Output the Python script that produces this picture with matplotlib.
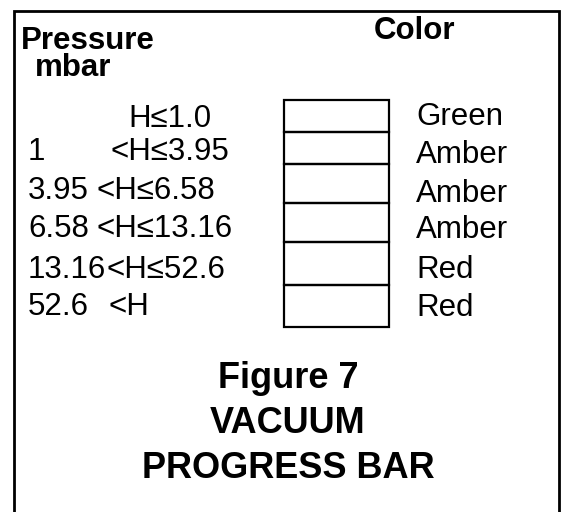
import matplotlib.pyplot as plt
from matplotlib.patches import Rectangle

# pressure ranges (mbar) and indicator colour for each segment of the bar
lower = ['', '1', '3.95', '6.58', '13.16', '52.6']
upper = ['1.0', '3.95', '6.58', '13.16', '52.6', '']
colors = ['Green', 'Amber', 'Amber', 'Amber', 'Red', 'Red']
title = ['Figure 7', 'VACUUM', 'PROGRESS BAR']

# layout (pixel coords)
row_edges = [100, 132, 164, 203, 242, 285, 327]
left_base = [127, 160, 199, 237, 278, 315]
right_base = [125, 163, 202, 238, 278, 316]
expr_x = [128, 110, 97, 97, 107, 108]
title_base = [388, 433, 478]

plt.rcParams['font.family'] = ['Liberation Sans', 'DejaVu Sans']

fig = plt.figure(figsize=(5.66, 5.12), dpi=100)
ax = fig.add_axes([0, 0, 1, 1])
ax.set_xlim(0, 566)
ax.set_ylim(512, 0)
ax.axis('off')

# outer frame (open at the bottom)
ax.plot([13.5, 13.5, 559, 559], [512, 11, 11, 512], color='black', lw=2, solid_joinstyle='miter')

ax.text(21, 49, 'Pressure', fontsize=22.5, fontweight='bold', va='baseline')
ax.text(35, 76, 'mbar', fontsize=22.5, fontweight='bold', va='baseline')
ax.text(374, 39, 'Color', fontsize=22.5, fontweight='bold', va='baseline')

for i in range(len(colors)):
    top, bot = row_edges[i], row_edges[i + 1]
    ax.add_patch(Rectangle((283.5, top), 389 - 283.5, bot - top, fill=False, ec='black', lw=1.6))
    expr = ('<' if lower[i] else '') + 'H' + ('\u2264' + upper[i] if upper[i] else '')
    if lower[i]:
        ax.text(28, left_base[i], lower[i], fontsize=22.5, va='baseline')
    ax.text(expr_x[i], left_base[i], expr, fontsize=22.5, va='baseline')
    ax.text(416, right_base[i], colors[i], fontsize=22.5, va='baseline')

for line, yb in zip(title, title_base):
    ax.text(288, yb, line, fontsize=26, fontweight='bold', ha='center', va='baseline')

fig.savefig('out.png', dpi=100)
